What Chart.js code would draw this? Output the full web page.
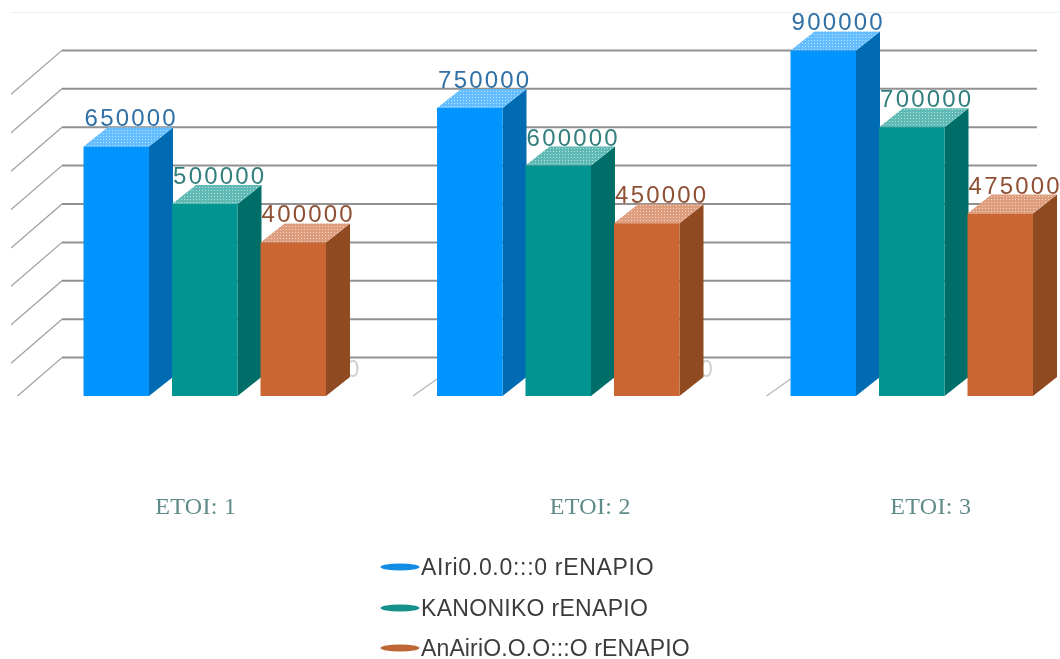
<!DOCTYPE html>
<html>
<head>
<meta charset="utf-8">
<title>Chart</title>
<script src="https://cdn.jsdelivr.net/npm/chart.js@4/dist/chart.umd.min.js"></script>
<style>
    html, body { margin: 0; padding: 0; background: #fff; width: 1060px; height: 659px; overflow: hidden; }
    canvas { display: block; }
</style>
</head>
<body>
<canvas id="bars" width="1098" height="659"></canvas>
<script>
// Data
const categories = ['ETOI: 1', 'ETOI: 2', 'ETOI: 3'];
const seriesNames = ['AIri0.0.0:::0 rENAPIO', 'KANONIKO rENAPIO', 'AnAiriO.O.O:::O rENAPIO'];
const optimistic = [650000, 750000, 900000];
const normal = [500000, 600000, 700000];
const pessimistic = [400000, 450000, 475000];

// Colours for each series
const frontColors = ['#0094ff', '#009590', '#c96632'];
const topColors = ['#63bdff', '#5fbab6', '#de9d7c'];
const sideColors = ['#006bb3', '#006e68', '#8f4a22'];
const textColors = ['#2f70a6', '#327f7d', '#8f5034'];
const legendColors = ['#148ce6', '#12918c', '#bf6638'];

// Fake 3D depth of the bars, in pixels
const depthX = 24;
const depthY = 19;
const wallLeft = 62;
const wallRight = 1037;
const categoryShift = [-9, 32, 19];
const legendSpacing = ['0.7px', '0.3px', '0.13px'];

// dithered top face of a bar
function dotPattern(ctx, color) {
    const tile = document.createElement('canvas');
    tile.width = 3;
    tile.height = 3;
    const t = tile.getContext('2d');
    t.fillStyle = color;
    t.fillRect(0, 0, 3, 3);
    t.fillStyle = 'rgba(255,255,255,0.55)';
    t.fillRect(1, 1, 1, 1);
    return ctx.createPattern(tile, 'repeat');
}

const wallPlugin = {
    id: 'wall',
    beforeDatasetsDraw(chart) {
        const ctx = chart.ctx;
        const y = chart.scales.y;
        const base = y.getPixelForValue(0);
        ctx.save();

        // faint top line
        const topLine = y.getPixelForValue(y.max);
        ctx.strokeStyle = '#eef0f3';
        ctx.lineWidth = 1;
        ctx.beginPath();
        ctx.moveTo(11, topLine + 0.5);
        ctx.lineTo(1060, topLine + 0.5);
        ctx.stroke();

        // back wall lines and the slanted side wall
        ctx.save();
        ctx.beginPath();
        ctx.rect(11, 0, 1060, base);
        ctx.clip();
        y.ticks.forEach(tick => {
            if (tick.value === 0 || tick.value === y.max) return;
            const py = y.getPixelForValue(tick.value);
            ctx.strokeStyle = '#929292';
            ctx.lineWidth = 2;
            ctx.beginPath();
            ctx.moveTo(wallLeft, py);
            ctx.lineTo(wallRight, py);
            ctx.stroke();
            ctx.strokeStyle = '#9c9c9c';
            ctx.lineWidth = 1.2;
            ctx.beginPath();
            ctx.moveTo(wallLeft, py);
            ctx.lineTo(wallLeft - 51, py + 44);
            ctx.stroke();
        });
        ctx.restore();

        // short floor marks and clipped zero labels
        const blue = chart.getDatasetMeta(0).data;
        const orange = chart.getDatasetMeta(2).data;
        blue.forEach((bar, i) => {
            if (i === 0) return;
            const left = bar.x - bar.width / 2;
            ctx.strokeStyle = '#b4b4b4';
            ctx.lineWidth = 1.2;
            ctx.beginPath();
            ctx.moveTo(left, base - depthY + 2);
            ctx.lineTo(left - depthX, base);
            ctx.stroke();
        });
        ctx.font = '23px "Liberation Sans"';
        ctx.fillStyle = '#cfcfcf';
        ctx.textAlign = 'center';
        ctx.textBaseline = 'alphabetic';
        orange.forEach((bar, i) => {
            if (i === orange.length - 1) return;
            ctx.fillText('0', bar.x + bar.width / 2 + depthX + 3, base - 19);
        });

        // sides and tops of the bars, fronts are drawn by the chart itself
        chart.data.datasets.forEach((ds, d) => {
            const pattern = dotPattern(ctx, topColors[d]);
            chart.getDatasetMeta(d).data.forEach(bar => {
                const right = bar.x + bar.width / 2;
                const left = bar.x - bar.width / 2;
                ctx.fillStyle = sideColors[d];
                ctx.beginPath();
                ctx.moveTo(right, bar.y);
                ctx.lineTo(right + depthX, bar.y - depthY);
                ctx.lineTo(right + depthX, base - depthY);
                ctx.lineTo(right, base);
                ctx.closePath();
                ctx.fill();
                ctx.fillStyle = pattern;
                ctx.beginPath();
                ctx.moveTo(left, bar.y);
                ctx.lineTo(left + depthX, bar.y - depthY);
                ctx.lineTo(right + depthX, bar.y - depthY);
                ctx.lineTo(right, bar.y);
                ctx.closePath();
                ctx.fill();
            });
        });
        ctx.restore();
    },
    afterDatasetsDraw(chart) {
        const ctx = chart.ctx;
        const x = chart.scales.x;
        ctx.save();

        // value labels
        ctx.font = '24px "Liberation Sans"';
        ctx.letterSpacing = '2.2px';
        ctx.textAlign = 'center';
        ctx.textBaseline = 'alphabetic';
        chart.data.datasets.forEach((ds, d) => {
            ctx.fillStyle = textColors[d];
            chart.getDatasetMeta(d).data.forEach((bar, i) => {
                ctx.fillText(String(ds.data[i]), bar.x + 15, bar.y - depthY - 1);
            });
        });

        // category labels
        ctx.font = '24px "Liberation Serif"';
        ctx.letterSpacing = '0.3px';
        ctx.fillStyle = '#5f8b89';
        categories.forEach((name, i) => {
            ctx.fillText(name, x.getPixelForValue(i) + categoryShift[i], 514);
        });

        // legend
        ctx.textAlign = 'left';
        ctx.textBaseline = 'middle';
        ctx.font = '23px "Liberation Sans"';
        seriesNames.forEach((name, i) => {
            const ly = [567, 608, 648][i];
            ctx.fillStyle = legendColors[i];
            ctx.beginPath();
            ctx.ellipse(400, ly, 19.5, 3.5, 0, 0, Math.PI * 2);
            ctx.fill();
            ctx.fillStyle = '#3c3c3c';
            ctx.letterSpacing = legendSpacing[i];
            ctx.fillText(name, 421, ly + 2);
        });
        ctx.restore();
    }
};

function initializeChart() {
    const canvas = document.getElementById('bars');
    new Chart(canvas, {
        type: 'bar',
        data: {
            labels: categories,
            datasets: [
                { label: seriesNames[0], data: optimistic, backgroundColor: frontColors[0] },
                { label: seriesNames[1], data: normal, backgroundColor: frontColors[1] },
                { label: seriesNames[2], data: pessimistic, backgroundColor: frontColors[2] }
            ]
        },
        options: {
            responsive: false,
            animation: false,
            devicePixelRatio: 1,
            categoryPercentage: 0.751,
            barPercentage: 0.74,
            layout: { padding: { left: 28, right: 9.5, top: 12, bottom: 263 } },
            scales: {
                x: { display: false },
                y: { display: false, min: 0, max: 1000000, ticks: { stepSize: 100000 } }
            },
            plugins: {
                legend: { display: false },
                tooltip: { enabled: false },
                title: { display: false }
            }
        },
        plugins: [wallPlugin]
    });
}

initializeChart();
</script>
</body>
</html>
